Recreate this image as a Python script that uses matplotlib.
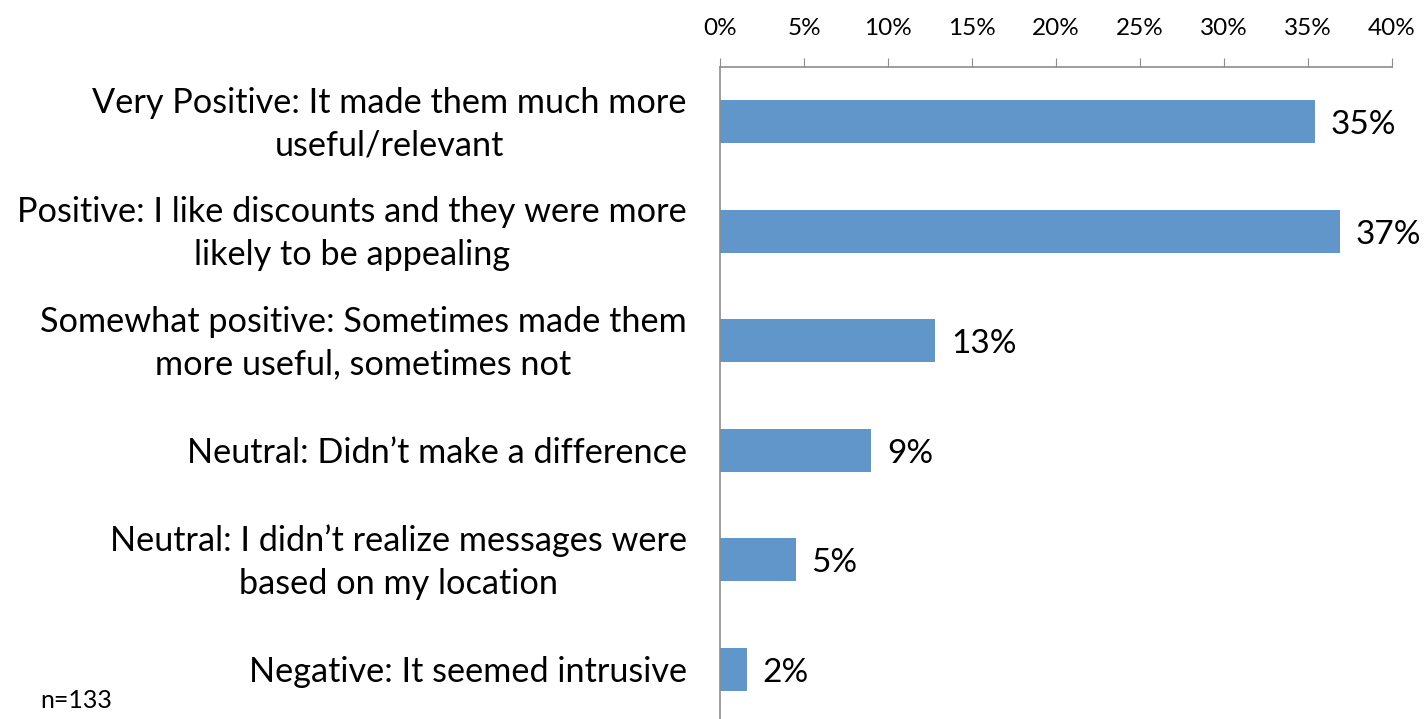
import matplotlib
matplotlib.use("Agg")
import matplotlib.pyplot as plt
from matplotlib.ticker import FuncFormatter
from matplotlib.transforms import ScaledTranslation

plt.rcParams['font.family'] = ['Lato', 'DejaVu Sans']

categories = [
    "Very Positive: It made them much more\nuseful/relevant",
    "Positive: I like discounts and they were more\nlikely to be appealing",
    "Somewhat positive: Sometimes made them\nmore useful, sometimes not",
    "Neutral: Didn\u2019t make a difference",
    "Neutral: I didn\u2019t realize messages were\nbased on my location",
    "Negative: It seemed intrusive",
]
values = [35.4, 36.9, 12.8, 9.0, 4.5, 1.6]
value_labels = ["35%", "37%", "13%", "9%", "5%", "2%"]
ticks = [0, 5, 10, 15, 20, 25, 30, 35, 40]

BAR_COLOR = '#6096c9'
AXIS_COLOR = '#8c8c8c'

W, H = 1424, 719


def main():
    fig = plt.figure(figsize=(W / 100, H / 100), dpi=100)
    # axes: left 720px, right 1392px, top 67px, bottom ~724px
    ax = fig.add_axes([720 / W, (H - 724) / H, (1392 - 720) / W, (724 - 67) / H])

    y = list(range(len(categories)))
    ax.barh(y, values, height=0.39, color=BAR_COLOR)
    for yi, v, lab in zip(y, values, value_labels):
        ax.text(v + 0.95, yi + 0.03, lab, va='center', ha='left', fontsize=24)

    ax.set_xlim(0, 40)
    ax.set_ylim(len(categories) - 0.5, -0.5)
    ax.set_xticks(ticks)
    ax.xaxis.set_major_formatter(FuncFormatter(lambda v, p: f"{v:.0f}%"))
    ax.xaxis.tick_top()
    ax.tick_params(axis='x', direction='out', length=6.5, color=AXIS_COLOR,
                   labelsize=17.5, pad=14)
    ax.set_yticks(y)
    ax.set_yticklabels(categories)
    ax.tick_params(axis='y', length=0, pad=24, labelsize=24.7)
    shift_up = ScaledTranslation(0, 6 / 100, fig.dpi_scale_trans)
    for lab in ax.get_yticklabels():
        lab.set_multialignment('center')
        lab.set_linespacing(1.4)
        if '\n' in lab.get_text():
            lab.set_transform(lab.get_transform() + shift_up)

    for side in ('right', 'bottom'):
        ax.spines[side].set_visible(False)
    for side in ('top', 'left'):
        ax.spines[side].set_color(AXIS_COLOR)
        ax.spines[side].set_linewidth(1.2)

    fig.text(40 / W, 1 - 701 / H, "n=133", fontsize=18, va='center', ha='left')

    fig.savefig("out.png", dpi=100)


if __name__ == '__main__':
    main()
